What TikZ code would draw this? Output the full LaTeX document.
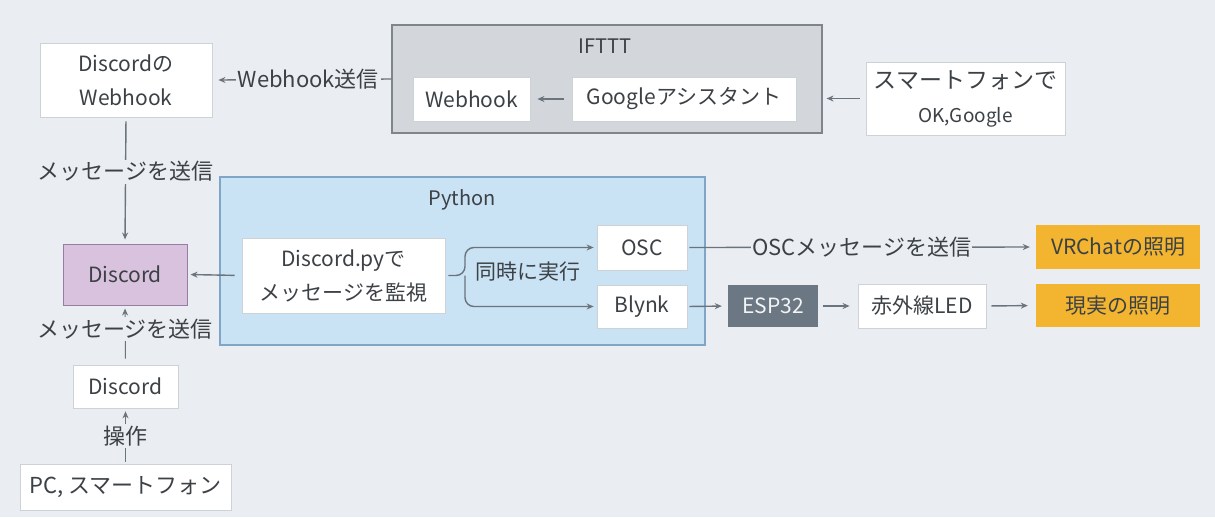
\documentclass[tikz,border=0pt]{standalone}
\usepackage{fontspec}
\setmainfont{Noto Sans CJK JP}
\usetikzlibrary{arrows.meta}
\definecolor{bg}{HTML}{EAEEF2}
\definecolor{txt}{HTML}{3C4146}
\definecolor{ln}{HTML}{6B747C}
\definecolor{wbord}{HTML}{CDD2D6}
\definecolor{ifill}{HTML}{D3D7DB}
\definecolor{ibord}{HTML}{7E858B}
\definecolor{pfill}{HTML}{C9E2F4}
\definecolor{pbord}{HTML}{7FA6C6}
\definecolor{vfill}{HTML}{D8C2DD}
\definecolor{vbord}{HTML}{9A7BA3}
\definecolor{sfill}{HTML}{6B7782}
\definecolor{ofill}{HTML}{F3B530}
\tikzset{
  every node/.style={text=txt, font=\fontsize{21}{34}\selectfont},
  wbox/.style={draw=wbord, line width=0.8pt, fill=white, align=center, inner sep=0pt},
  grp/.style={line width=1.2pt, inner sep=0pt},
  conn/.style={draw=ln, line width=1.4pt, -{Stealth[length=7pt,width=6pt]}},
  lbl/.style={fill=bg, inner sep=2pt, font=\fontsize{22}{26}\selectfont},
  ttl/.style={font=\fontsize{20}{24}\selectfont},
}
\begin{document}
\begin{tikzpicture}[x=1pt,y=-1pt]
\fill[bg] (0,0) rectangle (1215,517);
\useasboundingbox (0,0) rectangle (1215,517);
% groups
\node[grp, draw=ibord, fill=ifill, minimum width=430, minimum height=108] (ifttt) at (607,79) {};
\node[ttl] (iftttt) at (605,46) {IFTTT};
\node[grp, draw=pbord, fill=pfill, minimum width=485, minimum height=168] (py) at (462.5,261) {};
\node[ttl] (pyt) at (462,200) {Python};
% boxes
\node[wbox, minimum width=172, minimum height=74] (dw) at (126,80) {Discordの\\Webhook};
\node[wbox, minimum width=117, minimum height=44] (wh) at (471.5,99) {Webhook};
\node[wbox, minimum width=224, minimum height=44] (ga) at (684,99) {Googleアシスタント};
\node[wbox, minimum width=199, minimum height=73] (sp) at (965.5,98.5) {{\fontsize{23}{30}\selectfont スマートフォンで}\\{\fontsize{19}{26}\selectfont OK,Google}};
\node[draw=vbord, line width=1pt, fill=vfill, minimum width=124, minimum height=61, inner sep=0pt] (dc) at (125,274.5) {Discord};
\node[wbox, minimum width=203, minimum height=75] (dp) at (343.5,275.5) {Discord.pyで\\メッセージを監視};
\node[wbox, minimum width=90, minimum height=45] (osc) at (642,247.5) {OSC};
\node[wbox, minimum width=90, minimum height=43] (bl) at (642,306.5) {Blynk};
\node[fill=sfill, minimum width=90, minimum height=42, inner sep=0pt, text=white!92!sfill] (esp) at (773,306) {ESP32};
\node[wbox, minimum width=128, minimum height=44] (led) at (922,306) {赤外線LED};
\node[fill=ofill, minimum width=164, minimum height=44, inner sep=0pt] (vr) at (1118,247) {VRChatの照明};
\node[fill=ofill, minimum width=164, minimum height=43, inner sep=0pt] (rl) at (1118,305.5) {現実の照明};
\node[wbox, minimum width=105, minimum height=43] (ds) at (125.5,386.5) {Discord};
\node[wbox, minimum width=211, minimum height=46, font=\fontsize{22}{26}\selectfont] (pc) at (125.5,487) {PC, スマートフォン};
% connectors
\draw[conn] (ifttt.west) -- node[lbl, pos=0.48] (l1) {Webhook送信} ([xshift=6]dw.east);
\draw[conn, shorten <=8, shorten >=7] (ga.west) -- (wh.east);
\draw[conn, shorten <=6, shorten >=4] (sp.west) -- (sp.west -| ifttt.east);
\draw[conn, shorten <=4, shorten >=4] (dw.south) -- node[lbl, pos=0.43] (l2) {メッセージを送信} (dc.north);
\draw[conn, shorten <=7, shorten >=3] (dp.west) -- (dc.east);
\coordinate (br) at (465,275.5);
\draw[conn, rounded corners=9, shorten >=3] ([xshift=3]dp.east) -- (br) |- (osc.west);
\draw[conn, rounded corners=9, shorten >=3] (br) |- (bl.west);
\node (sim) at (528,272) {同時に実行};
\draw[conn, shorten <=2, shorten >=6] (osc.east) -- node[lbl, pos=0.5, inner sep=1pt] (l3) {OSCメッセージを送信} (vr.west);
\draw[conn, shorten <=2, shorten >=6] (bl.east) -- (esp.west);
\draw[conn, shorten <=5, shorten >=8] (esp.east) -- (led.west);
\draw[conn, shorten <=5, shorten >=8] (led.east) -- (rl.west);
\draw[conn, line width=1pt, shorten <=6, shorten >=3] (ds.north) -- node[lbl, pos=0.6] (l4) {メッセージを送信} (dc.south);
\draw[conn, line width=1pt, shorten <=2, shorten >=3] (pc.north) -- node[lbl, pos=0.5] (l5) {操作} (ds.south);
\end{tikzpicture}
\end{document}
